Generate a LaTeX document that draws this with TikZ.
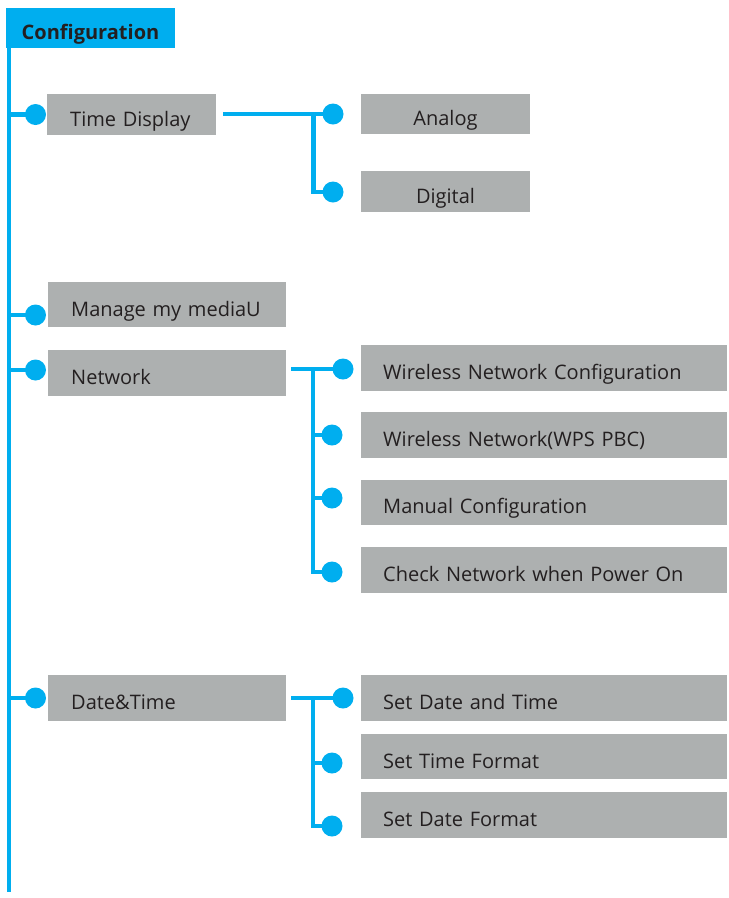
\documentclass[tikz,border=0pt]{standalone}
\usepackage{fontspec}
\setmainfont{Open Sans}
\definecolor{cblue}{HTML}{00AEEF}
\definecolor{cgray}{HTML}{ADB0B0}
\definecolor{ctext}{HTML}{231F20}
\begin{document}
\begin{tikzpicture}[x=1pt,y=-1pt,
  line/.style={draw=cblue,line width=4.5pt,line join=miter},
  dot/.style={circle,fill=cblue,minimum size=21pt,inner sep=0pt},
  box/.style={rectangle,fill=cgray,inner ysep=0pt,text=ctext,
    font=\fontsize{20}{24}\selectfont,text height=25pt,text depth=2pt},
  lbox/.style={box,align=left,inner xsep=#1,anchor=west},
  cbox/.style={box,align=center,inner xsep=0pt},
  hdr/.style={rectangle,fill=cblue,text=ctext,inner ysep=0pt,inner xsep=0pt,
    font=\fontsize{20}{24}\selectfont\bfseries,text height=25pt,text depth=2pt,
    minimum width=169pt,minimum height=40pt,align=center}]
\useasboundingbox (0,0) rectangle (729,898);
% main line
\coordinate (top) at (9,48);
\coordinate (bot) at (9,892);
\draw[line] (top) -- (bot);
\node[hdr] (cfg) at (90.5,28) {Configuration};
% level 1 dots
\node[dot] (d1) at (35.5,114.5) {};
\node[dot] (d2) at (35.5,315) {};
\node[dot] (d3) at (35.5,370) {};
\node[dot] (d4) at (35.5,698) {};
\foreach \d in {d1,d2,d3,d4} \draw[line] (\d.center) -- (\d.center -| top);
% level 1 boxes
\node[lbox=23pt,text width=123pt,minimum height=41pt] (td) at (47,114.5) {Time Display};
\node[lbox=23pt,text width=192pt,minimum height=45pt] (mm) at (48,304.5) {Manage my mediaU};
\node[lbox=23pt,text width=192pt,minimum height=46pt] (nw) at (48,373) {Network};
\node[lbox=23pt,text width=192pt,minimum height=46pt] (dt) at (48,698) {Date\&Time};
% time display branch
\node[dot] (a1) at (333,114) {};
\node[dot] (a2) at (333,192) {};
\coordinate (tds) at (223,114);
\coordinate (tdj) at (313.5,114);
\draw[line] (tds) -- (a1.center);
\draw[line] (tdj) |- (a2.center);
\node[cbox,minimum width=169pt,minimum height=40pt] (an) at (445.5,114) {Analog};
\node[cbox,minimum width=169pt,minimum height=41pt] (dg) at (445.5,191.5) {Digital};
% network branch
\node[dot] (n1) at (343,369) {};
\node[dot] (n2) at (332,435) {};
\node[dot] (n3) at (332,498) {};
\node[dot] (n4) at (332,572) {};
\coordinate (nws) at (291,369);
\coordinate (nwj) at (313,369);
\draw[line] (nws) -- (n1.center);
\draw[line] (nwj) |- (n4.center);
\draw[line] (n2.center) -- (n2.center -| nwj);
\draw[line] (n3.center) -- (n3.center -| nwj);
\node[lbox=22pt,text width=322pt,minimum height=46pt] (s1) at (361,368) {Wireless Network Configuration};
\node[lbox=22pt,text width=322pt,minimum height=46pt] (s2) at (361,435) {Wireless Network(WPS PBC)};
\node[lbox=22pt,text width=322pt,minimum height=45pt] (s3) at (361,502) {Manual Configuration};
\node[lbox=22pt,text width=322pt,minimum height=46pt] (s4) at (361,570) {Check Network when Power On};
% date & time branch
\node[dot] (t1) at (343,698) {};
\node[dot] (t2) at (332,763) {};
\node[dot] (t3) at (332,826) {};
\coordinate (dts) at (291,698);
\coordinate (dtj) at (313,698);
\draw[line] (dts) -- (t1.center);
\draw[line] (dtj) |- (t3.center);
\draw[line] (t2.center) -- (t2.center -| dtj);
\node[lbox=22pt,text width=322pt,minimum height=46pt] (u1) at (361,698) {Set Date and Time};
\node[lbox=22pt,text width=322pt,minimum height=45pt] (u2) at (361,756.5) {Set Time Format};
\node[lbox=22pt,text width=322pt,minimum height=46pt] (u3) at (361,815) {Set Date Format};
\end{tikzpicture}
\end{document}
